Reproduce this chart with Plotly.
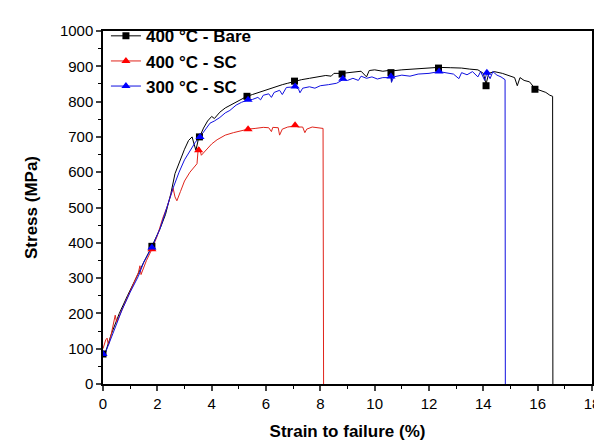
import plotly.graph_objects as go

# ---- data ----
bare_x = [0, 0.05, 0.3, 0.6, 0.9, 1.2, 1.5, 1.8, 2.1, 2.3, 2.5, 2.65, 2.83, 3.0, 3.15, 3.28, 3.35, 3.42, 3.5, 3.55,
          3.7, 3.85, 4.0, 4.1, 4.3, 4.5, 4.7, 4.9, 5.1, 5.3, 5.5, 5.8, 6.1, 6.3, 6.6, 6.8, 7.05, 7.3, 7.6, 7.9,
          8.2, 8.4, 8.5, 8.8, 9.2, 9.5, 9.7, 9.8, 10.0, 10.3, 10.5, 10.6, 10.62, 10.65, 11.0, 11.5, 12.0, 12.35,
          12.8, 13.2, 13.5, 13.8, 14.0, 14.1, 14.2, 14.4, 14.7, 15.0, 15.15, 15.25, 15.35, 15.5, 15.7, 15.9,
          16.1, 16.3, 16.45, 16.55, 16.56]
bare_y = [85, 80, 140, 200, 250, 300, 345, 390, 440, 480, 540, 596, 634, 665, 690, 700, 680, 662, 690, 700,
          725, 745, 758, 752, 770, 782, 790, 800, 808, 815, 820, 828, 836, 840, 848, 852, 858, 862, 866, 870,
          874, 872, 880, 880, 884, 886, 870, 888, 890, 886, 888, 885, 855, 887, 890, 892, 894, 897,
          896, 895, 892, 890, 880, 850, 880, 885, 880, 872, 868, 845, 868, 860, 856, 837,
          832, 826, 818, 815, 0]
bare_mx = [0, 1.8, 3.55, 5.3, 7.05, 8.8, 10.6, 12.35, 14.1, 15.9]
bare_my = [85, 390, 700, 815, 858, 878, 882, 895, 845, 835]

sc400_x = [0, 0.05, 0.1, 0.15, 0.2, 0.3, 0.45, 0.5, 0.7, 1.0, 1.2, 1.3, 1.36, 1.4, 1.6, 1.8, 2.0, 2.2, 2.35, 2.5,
           2.58, 2.65, 2.72, 2.85, 3.0, 3.2, 3.4, 3.46, 3.5, 3.55, 3.62, 3.7, 3.85, 4.0, 4.2, 4.5, 4.8, 5.0,
           5.34, 5.6, 5.9, 6.1, 6.2, 6.25, 6.45, 6.5, 6.6, 6.8, 7.07, 7.2, 7.35, 7.43, 7.5, 7.7, 7.9, 8.1, 8.12]
sc400_y = [100, 115, 125, 130, 110, 140, 195, 175, 210, 260, 295, 315, 335, 310, 350, 382, 420, 470, 500, 535,
           555, 530, 519, 545, 575, 600, 620, 624, 662, 670, 648, 655, 670, 680, 692, 705, 712, 716,
           722, 724, 727, 726, 715, 727, 726, 705, 722, 728, 731, 728, 728, 712, 722, 728, 727, 724, 0]
sc400_mx = [1.8, 3.52, 5.34, 7.07]
sc400_my = [382, 662, 722, 733]

sc300_x = [0, 0.07, 0.4, 0.7, 1.0, 1.3, 1.5, 1.8, 2.1, 2.36, 2.58, 2.8, 3.0, 3.2, 3.4, 3.57, 3.7, 3.94, 4.1, 4.3,
           4.5, 4.67, 4.9, 5.1, 5.34, 5.5, 5.7, 5.8, 5.9, 6.1, 6.2, 6.3, 6.5, 6.6, 6.75, 7.07, 7.2, 7.25, 7.35,
           7.6, 7.8, 8.0, 8.3, 8.6, 8.83, 9.0, 9.2, 9.4, 9.5, 9.7, 9.9, 10.1, 10.3, 10.6, 10.62, 10.7, 11.0,
           11.3, 11.6, 12.0, 12.37, 12.6, 12.9, 13.1, 13.2, 13.4, 13.6, 13.8, 13.9, 14.05, 14.13, 14.25, 14.35,
           14.5, 14.65, 14.8, 14.81]
sc300_y = [80, 85, 150, 210, 260, 305, 345, 387, 440, 505, 555, 600, 635, 660, 685, 700, 715, 739, 745, 755,
           768, 775, 790, 798, 805, 806, 812, 805, 818, 822, 812, 826, 832, 820, 840, 842, 835, 825, 838,
           842, 838, 845, 848, 852, 862, 860, 866, 860, 872, 866, 870, 864, 868, 868, 855, 870, 875,
           872, 878, 880, 885, 882, 878, 865, 882, 876, 885, 870, 885, 860, 882, 865, 885,
           875, 870, 862, 0]
sc300_mx = [0, 1.8, 3.57, 5.34, 7.07, 8.83, 10.6, 12.37, 14.13]
sc300_my = [85, 387, 700, 805, 843, 865, 871, 885, 882]

names = ["400 °C - Bare", "400 °C - SC", "300 °C - SC"]
colors = ["#000000", "#ff0000", "#0000ff"]
symbols = ["square", "triangle-up", "triangle-up"]

x_ticks = [0, 2, 4, 6, 8, 10, 12, 14, 16, 18]
y_ticks = [0, 100, 200, 300, 400, 500, 600, 700, 800, 900, 1000]

series = [
    (bare_x, bare_y, bare_mx, bare_my),
    (sc400_x, sc400_y, sc400_mx, sc400_my),
    (sc300_x, sc300_y, sc300_mx, sc300_my),
]

fig = go.Figure()
line_colors = ["#000000", "#e0241b", "#1010e0"]
for i, (x, y, mx, my) in enumerate(series):
    fig.add_trace(go.Scatter(x=x, y=y, mode="lines", line=dict(color=line_colors[i], width=1),
                             showlegend=False, hoverinfo="skip"))
for i, (x, y, mx, my) in enumerate(series):
    fig.add_trace(go.Scatter(x=mx, y=my, mode="markers",
                             marker=dict(symbol=symbols[i], color=colors[i], size=7 if i == 0 else 8),
                             showlegend=False))
for i in range(3):
    fig.add_trace(go.Scatter(x=[None], y=[None], mode="lines+markers", name=names[i],
                             line=dict(color=line_colors[i], width=1),
                             marker=dict(symbol=symbols[i], color=colors[i], size=7 if i == 0 else 8)))

fig.update_layout(
    width=594, height=436,
    margin=dict(l=95, r=10, t=12, b=60),
    paper_bgcolor="white", plot_bgcolor="white",
    font=dict(family="Liberation Sans, Arial, sans-serif", color="black"),
    legend=dict(x=0.006, y=1.036, xanchor="left", yanchor="top", bgcolor="rgba(0,0,0,0)",
                font=dict(size=17, family="Liberation Sans, Arial, sans-serif", weight="bold"),
                tracegroupgap=0, itemwidth=30),
    xaxis=dict(range=[0, 18], tickvals=x_ticks, ticks="outside", ticklen=5, tickwidth=1.5,
               showline=True, linecolor="black", linewidth=1.5, mirror=True, showgrid=False, zeroline=False,
               tickfont=dict(size=15), automargin=False,
               minor=dict(dtick=1, ticks="outside", ticklen=3, tickwidth=1.2, tickcolor="black"),
               title=dict(text="Strain to failure (%)", font=dict(size=17, weight="bold"), standoff=14)),
    yaxis=dict(range=[0, 1000], tickvals=y_ticks, ticks="outside", ticklen=5, tickwidth=1.5,
               showline=True, linecolor="black", linewidth=1.5, mirror=True, showgrid=False, zeroline=False,
               tickfont=dict(size=15), automargin=False,
               minor=dict(dtick=50, ticks="outside", ticklen=3, tickwidth=1.2, tickcolor="black"),
               title=dict(text="Stress (MPa)", font=dict(size=17, weight="bold"), standoff=18)),
)

fig.write_html("out.html")
